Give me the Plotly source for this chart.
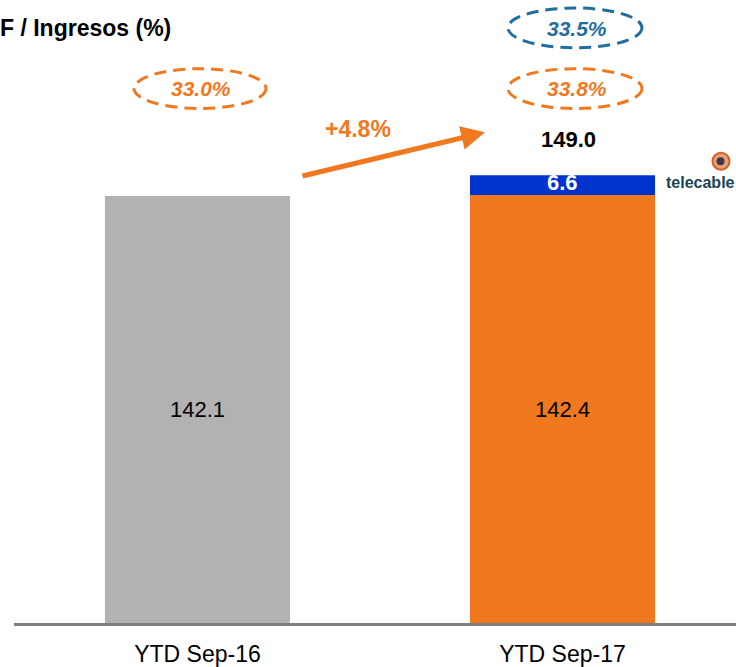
import plotly.graph_objects as go

# ---- data ----
categories = ["YTD Sep-16", "YTD Sep-17"]
base_values = [142.1, 142.4]
telecable_values = [0, 6.6]
margins_base = ["33.0%", "33.8%"]
margin_proforma = "33.5%"
growth_label = "+4.8%"
title_text = "F / Ingresos (%)"

GRAY = "#B2B2B2"
ORANGE = "#F0781E"
BLUE = "#0033CC"
TEAL = "#1F6E9E"
FONT = "Liberation Sans, Arial, sans-serif"

W, H = 736, 667
L, R, T, B = 14, 0, 0, 41
PW, PH = W - L - R, H - T - B
PXU = 3.02  # px per unit
ymax = PH / PXU

def px(xp):
    return (xp - L) / PW

def py(yp):
    return (H - B - yp) / PH

fig = go.Figure()
fig.add_trace(go.Bar(x=[0, 1], y=base_values, marker_color=[GRAY, ORANGE],
                     marker_line_width=0, width=0.507, hoverinfo="skip"))
fig.add_trace(go.Bar(x=[1], y=[telecable_values[1]], base=[base_values[1]],
                     marker_color=BLUE, marker_line_width=0, width=0.507,
                     hoverinfo="skip"))

ann = []
# value labels inside bars
for i, v in enumerate(base_values):
    ann.append(dict(x=i, y=v / 2, xref="x", yref="y", text=f"{v:.1f}", xanchor="center",
                    yanchor="middle", showarrow=False,
                    font=dict(family=FONT, size=22, color="black")))
# telecable segment label
tv = telecable_values[1]
ann.append(dict(x=1, y=base_values[1] + tv / 2, xref="x", yref="y", text=f"<b>{tv:.1f}</b>",
                xanchor="center", yanchor="middle", showarrow=False, yshift=3,
                font=dict(family=FONT, size=22, color="white")))
# total label
total = base_values[1] + tv
ann.append(dict(x=1, y=total, xref="x", yref="y", text=f"<b>{total:.1f}</b>", xanchor="center",
                yanchor="middle", showarrow=False, yshift=36, xshift=6,
                font=dict(family=FONT, size=22, color="black")))

def pann(x, y, text, size, color, xanchor="center", family=FONT):
    ann.append(dict(x=px(x), y=py(y), xref="paper", yref="paper", xanchor=xanchor,
                    yanchor="middle", text=text, showarrow=False,
                    font=dict(family=family, size=size, color=color)))

# title
pann(173, 28, f"<b>{title_text}</b>", 23, "black", xanchor="right")

# margin ellipses text
pann(201, 89, f"<b><i>{margins_base[0]}</i></b>", 21, ORANGE)
pann(577, 89, f"<b><i>{margins_base[1]}</i></b>", 21, ORANGE)
pann(577, 29, f"<b><i>{margin_proforma}</i></b>", 21, TEAL)

# growth arrow
ann.append(dict(x=px(485), y=py(133), ax=301 - 485, ay=177 - 133,
                xref="paper", yref="paper",
                text="", showarrow=True, arrowhead=2, arrowsize=0.95, arrowwidth=5,
                arrowcolor=ORANGE, standoff=0))
pann(358, 130, f"<b>{growth_label}</b>", 23, ORANGE)

# telecable logo text
pann(664, 183, "<b>telecable</b>", 16, "#1A4558", xanchor="left")

shapes = []
def ellipse(cx, cy, w, h, color):
    shapes.append(dict(type="circle", xref="paper", yref="paper",
                       x0=px(cx - w / 2), x1=px(cx + w / 2),
                       y0=py(cy + h / 2), y1=py(cy - h / 2),
                       line=dict(color=color, width=3, dash="12px,7px")))

ellipse(200, 89, 132, 40, ORANGE)
ellipse(575, 89, 134, 40, ORANGE)
ellipse(575, 28, 134, 40, TEAL)

# logo icon
shapes.append(dict(type="circle", xref="paper", yref="paper",
                   x0=px(712.5), x1=px(729.5), y0=py(170.5), y1=py(153.5),
                   line=dict(color="#D0602E", width=2), fillcolor="#E8A070"))
shapes.append(dict(type="circle", xref="paper", yref="paper",
                   x0=px(716.5), x1=px(724.5), y0=py(166), y1=py(158),
                   line=dict(width=0), fillcolor="#3E3550"))

fig.update_layout(
    width=W, height=H,
    margin=dict(l=L, r=R, t=T, b=B, pad=0),
    barmode="overlay",
    showlegend=False,
    plot_bgcolor="white", paper_bgcolor="white",
    xaxis=dict(range=[-0.5027, 1.4753], tickvals=[0, 1], ticktext=categories,
               showgrid=False, zeroline=False, showline=True, linecolor="#7F7F7F",
               linewidth=3, ticks="", ticklabelstandoff=8,
               tickfont=dict(family=FONT, size=23, color="black"),
               fixedrange=True),
    yaxis=dict(range=[0, ymax], visible=False, fixedrange=True),
    annotations=ann, shapes=shapes,
)

fig.write_html("out.html", post_script="document.body.style.margin='0';",
               config={"displayModeBar": False})
